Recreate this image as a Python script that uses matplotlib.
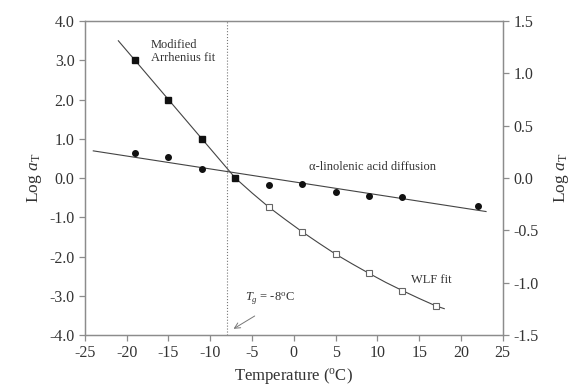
import matplotlib
matplotlib.use('Agg')
import matplotlib.pyplot as plt

plt.rcParams['font.family'] = ['Liberation Serif', 'DejaVu Serif']
plt.rcParams['mathtext.fontset'] = 'custom'
plt.rcParams['mathtext.rm'] = 'Liberation Serif'
plt.rcParams['mathtext.it'] = 'Liberation Serif:italic'
plt.rcParams['axes.unicode_minus'] = False

# Modified Arrhenius data (left axis, filled squares)
arr_temp = [-19, -15, -11, -7]
arr_log = [3.0, 2.0, 1.0, 0.0]
arr_fit_temp = [-21, -7]
arr_fit_log = [3.5, 0.0]

# WLF data (left axis, open squares)
wlf_temp = [-3, 1, 5, 9, 13, 17]
wlf_log = [-0.74, -1.37, -1.94, -2.43, -2.87, -3.26]
wlf_fit_temp = [-7, -5, -3, -1, 1, 3, 5, 7, 9, 11, 13, 15, 17, 18]
wlf_fit_log = [0.0, -0.38, -0.74, -1.06, -1.37, -1.66, -1.94, -2.19, -2.43, -2.66, -2.87, -3.07, -3.26, -3.33]

# alpha-linolenic acid diffusion (right axis, circles)
dif_temp = [-19, -15, -11, -3, 1, 5, 9, 13, 22]
dif_log = [0.24, 0.20, 0.085, -0.067, -0.057, -0.13, -0.17, -0.185, -0.27]
dif_fit_temp = [-24, 23]
dif_fit_log = [0.26, -0.32]

tg = -8

line_c = '#444444'
axis_c = '#8c8c8c'
text_c = '#333333'

fig = plt.figure(figsize=(5.7, 3.85), dpi=100)
ax = fig.add_axes([0.149, 0.130, 0.733, 0.815])
ax2 = ax.twinx()

ax.plot(arr_fit_temp, arr_fit_log, color=line_c, lw=0.8)
ax.plot(wlf_fit_temp, wlf_fit_log, color=line_c, lw=0.8)
ax.plot(arr_temp, arr_log, 's', color='#111111', ms=4.5, zorder=5)
ax.plot(wlf_temp, wlf_log, 's', mfc='white', mec='#666666', mew=0.8, ms=4.5, zorder=5)
ax.axvline(tg, color='#777777', lw=0.8, ls=':')

ax2.plot(dif_fit_temp, dif_fit_log, color=line_c, lw=0.8)
ax2.plot(dif_temp, dif_log, 'o', color='#111111', ms=4.0, zorder=5)

ax.set_xlim(-25, 25)
ax.set_ylim(-4, 4)
ax2.set_ylim(-1.5, 1.5)
ax.set_xticks(range(-25, 26, 5))
ax.set_yticks([-4, -3, -2, -1, 0, 1, 2, 3, 4])
ax.set_yticklabels([f'{v:.1f}' for v in ax.get_yticks()])
ax2.set_yticks([-1.5, -1.0, -0.5, 0.0, 0.5, 1.0, 1.5])
ax2.set_yticklabels([f'{v:.1f}' for v in ax2.get_yticks()])

for a in (ax, ax2):
    for s in a.spines.values():
        s.set_color(axis_c)
        s.set_linewidth(0.9)
    a.tick_params(direction='out', length=4, width=0.9, color=axis_c,
                  labelsize=11.5, labelcolor=text_c)

ax.set_xlabel('Temperature ($^{\\mathrm{o}}$C)', fontsize=12, color=text_c, labelpad=3)
ax.set_ylabel('Log $\\it{a}_{\\mathrm{T}}$', fontsize=12.5, color=text_c, labelpad=4)
ax2.set_ylabel('Log $\\it{a}_{\\mathrm{T}}$', fontsize=12.5, color=text_c, labelpad=10, rotation=90)

ax.text(-17.1, 3.55, 'Modified\nArrhenius fit', fontsize=9, color=text_c,
        va='top', ha='left', linespacing=1.1)
ax.text(9.4, 0.28, '\u03b1-linolenic acid diffusion', fontsize=9, color=text_c,
        ha='center', va='center')
ax.text(16.5, -2.6, 'WLF fit', fontsize=9, color=text_c, ha='center', va='center')
ax.text(-5.8, -3.08, '$\\it{T}_{g}$ = -8$^{\\mathrm{o}}$C', fontsize=9, color=text_c,
        ha='left', va='center')
ax.annotate('', xy=(-7.5, -3.88), xytext=(-4.4, -3.48),
            arrowprops=dict(arrowstyle='->', color='#777777', lw=0.7))

fig.savefig('out.png', dpi=100)
